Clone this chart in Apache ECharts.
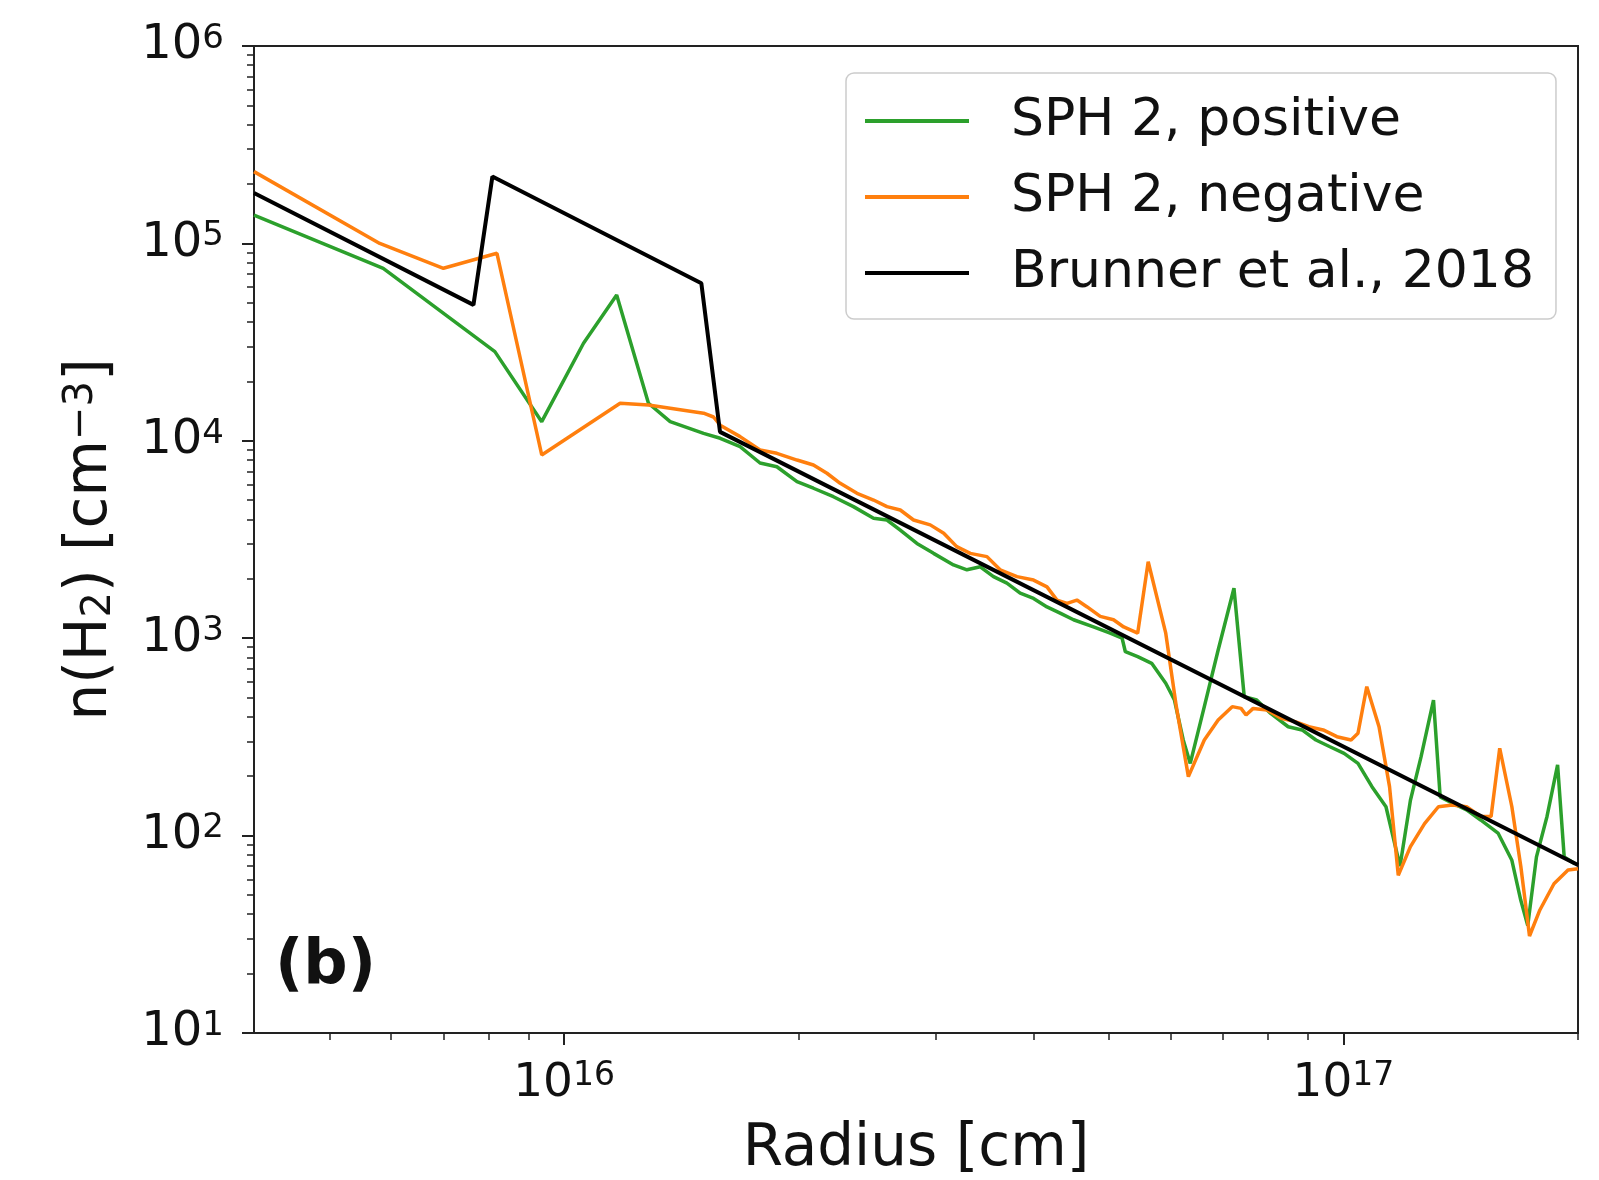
<!DOCTYPE html>
<html>
<head>
<meta charset="utf-8">
<script src="https://cdn.jsdelivr.net/npm/echarts@6/dist/echarts.min.js"></script>
<style>
html,body{margin:0;padding:0;background:#ffffff;}
#chart{width:1599px;height:1180px;}
</style>
</head>
<body>
<div id="chart"></div>
<script>
// ---------- data ----------
const seriesNames = ['SPH 2, positive', 'SPH 2, negative', 'Brunner et al., 2018'];

const greenX = [4.0e15, 5.86e15, 8.15e15, 9.36e15, 1.059e16, 1.168e16, 1.283e16, 1.368e16, 1.51e16, 1.586e16,
  1.682e16, 1.784e16, 1.875e16, 1.99e16, 2.089e16, 2.216e16, 2.351e16, 2.495e16, 2.596e16, 2.70e16,
  2.836e16, 2.979e16, 3.16e16, 3.288e16, 3.42e16, 3.556e16, 3.70e16, 3.848e16, 4.003e16, 4.165e16,
  4.33e16, 4.505e16, 4.778e16, 5.02e16, 5.20e16, 5.25e16, 5.445e16, 5.675e16, 5.916e16, 6.07e16,
  6.23e16, 6.36e16, 6.63e16, 6.907e16, 7.237e16, 7.46e16, 7.74e16, 8.066e16, 8.495e16, 8.85e16,
  9.22e16, 9.61e16, 1.002e17, 1.044e17, 1.088e17, 1.134e17, 1.182e17, 1.219e17, 1.258e17, 1.305e17,
  1.331e17, 1.38e17, 1.439e17, 1.5e17, 1.579e17, 1.645e17, 1.689e17, 1.724e17, 1.769e17, 1.825e17,
  1.883e17, 1.92e17, 1.982e17];
const greenY = [1.39e5, 7.48e4, 2.83e4, 1.25e4, 3.12e4, 5.48e4, 1.55e4, 1.25e4, 1.09e4, 1.03e4,
  9340, 7720, 7390, 6210, 5750, 5210, 4640, 4050, 3970, 3530,
  3020, 2690, 2350, 2220, 2300, 2050, 1900, 1690, 1590, 1440,
  1340, 1240, 1140, 1060, 1000, 854, 806, 746, 591, 486,
  305, 232, 450, 871, 1790, 505, 486, 416, 356, 343,
  305, 282, 261, 232, 177, 140, 70, 151, 251, 486,
  157, 146, 135, 120, 103, 75, 47, 35, 78, 125,
  228, 78, 72];

const orangeX = [4.0e15, 5.80e15, 7.0e15, 8.2e15, 9.36e15, 1.18e16, 1.283e16, 1.51e16, 1.555e16, 1.586e16,
  1.682e16, 1.784e16, 1.875e16, 1.99e16, 2.089e16, 2.174e16, 2.261e16, 2.376e16, 2.495e16, 2.596e16,
  2.70e16, 2.808e16, 2.95e16, 3.07e16, 3.19e16, 3.32e16, 3.488e16, 3.627e16, 3.812e16, 4.003e16,
  4.165e16, 4.29e16, 4.42e16, 4.55e16, 4.69e16, 4.875e16, 5.07e16, 5.225e16, 5.445e16, 5.617e16,
  5.916e16, 6.104e16, 6.325e16, 6.63e16, 6.907e16, 7.2e16, 7.39e16, 7.5e16, 7.66e16, 7.98e16,
  8.32e16, 8.67e16, 9.03e16, 9.42e16, 9.81e16, 1.023e17, 1.044e17, 1.0715e17, 1.111e17, 1.146e17,
  1.176e17, 1.219e17, 1.271e17, 1.324e17, 1.38e17, 1.439e17, 1.5e17, 1.547e17, 1.587e17, 1.645e17,
  1.689e17, 1.733e17, 1.787e17, 1.863e17, 1.942e17, 2.0e17];
const orangeY = [2.31e5, 1.0e5, 7.48e4, 8.91e4, 8480, 1.55e4, 1.52e4, 1.38e4, 1.32e4, 1.20e4,
  1.05e4, 8980, 8640, 7990, 7540, 6850, 6090, 5420, 5010, 4640,
  4460, 3970, 3750, 3400, 2910, 2690, 2590, 2220, 2050, 1970,
  1820, 1560, 1500, 1560, 1440, 1290, 1240, 1140, 1060, 2440,
  1060, 450, 199, 305, 385, 450, 441, 408, 441, 433,
  393, 378, 356, 343, 317, 305, 330, 568, 356, 177,
  63, 88, 115, 140, 143, 140, 125, 125, 277, 140,
  70, 31, 42, 57, 67, 68];

const brunnerX = [4.0e15, 7.65e15, 8.09e15, 1.50e16, 1.585e16, 2.0e17];
const brunnerY = [1.8e5, 4.88e4, 2.18e5, 6.28e4, 1.11e4, 71];

// axis ticks
const xMin = 4e15, xMax = 2e17, yMin = 10, yMax = 1e6;
const xMajorTicks = [1e16, 1e17];
const xMinorTicks = [4e15, 5e15, 6e15, 7e15, 8e15, 9e15,
  2e16, 3e16, 4e16, 5e16, 6e16, 7e16, 8e16, 9e16, 2e17];
const yMajorTicks = [1e1, 1e2, 1e3, 1e4, 1e5, 1e6];
const yMinorTicks = [2e1, 3e1, 4e1, 5e1, 6e1, 7e1, 8e1, 9e1,
  2e2, 3e2, 4e2, 5e2, 6e2, 7e2, 8e2, 9e2,
  2e3, 3e3, 4e3, 5e3, 6e3, 7e3, 8e3, 9e3,
  2e4, 3e4, 4e4, 5e4, 6e4, 7e4, 8e4, 9e4,
  2e5, 3e5, 4e5, 5e5, 6e5, 7e5, 8e5, 9e5];

const colors = ['#2ca02c', '#ff7f0e', '#000000'];

// ---------- chart ----------
const FONT = 'DejaVu Sans';
const TXT = '#111111';
const SPINE = '#222222';

function zip(xs, ys) { return xs.map((x, i) => [x, ys[i]]); }
function expLabel(v) { return '10{s|' + Math.round(Math.log10(v)) + '}'; }

const chart = echarts.init(document.getElementById('chart'), null, { renderer: 'canvas' });

const majorTickStyle = { color: SPINE, width: 2 };

const option = {
  animation: false,
  backgroundColor: '#ffffff',
  title: {
    text: '(b)', left: 275, top: 936, padding: 0,
    textStyle: { fontFamily: FONT, fontSize: 62, fontWeight: 'bold', color: TXT }
  },
  legend: {
    orient: 'vertical', left: 846, top: 73,
    padding: [22, 22, 20, 19],
    icon: 'rect',
    itemWidth: 104, itemHeight: 4, itemGap: 24,
    backgroundColor: 'rgba(255,255,255,0.8)',
    borderColor: '#cccccc', borderWidth: 1.5, borderRadius: 8,
    textStyle: { fontFamily: FONT, fontSize: 52, color: TXT, padding: [0, 0, 0, 37] },
    data: seriesNames
  },
  grid: {
    left: 254, right: 21, top: 46, bottom: 147,
    show: true, borderColor: SPINE, borderWidth: 2, backgroundColor: 'transparent',
    containLabel: false, outerBoundsMode: 'none'
  },
  xAxis: [
    {
      type: 'log', logBase: 10, min: xMin, max: xMax, position: 'bottom',
      axisLine: { show: true, lineStyle: { color: SPINE, width: 2 } },
      axisTick: { show: true, inside: false, length: 12, lineStyle: majorTickStyle, customValues: xMajorTicks },
      axisLabel: {
        customValues: xMajorTicks, margin: 27, formatter: expLabel,
        fontFamily: FONT, fontSize: 47, color: TXT,
        rich: { s: { fontFamily: FONT, fontSize: 33, color: TXT, verticalAlign: 'top' } }
      },
      splitLine: { show: false }, minorTick: { show: false }, minorSplitLine: { show: false },
      name: 'Radius [cm]', nameLocation: 'middle', nameGap: 88,
      nameTextStyle: { fontFamily: FONT, fontSize: 58, color: TXT }
    },
    {
      type: 'log', logBase: 10, min: xMin, max: xMax, position: 'bottom',
      axisLine: { show: false },
      axisTick: { show: true, inside: false, length: 7, lineStyle: { color: SPINE, width: 1.5 }, customValues: xMinorTicks },
      axisLabel: { show: false }, splitLine: { show: false }
    }
  ],
  yAxis: [
    {
      type: 'log', logBase: 10, min: yMin, max: yMax, position: 'left',
      axisLine: { show: true, lineStyle: { color: SPINE, width: 2 } },
      axisTick: { show: true, inside: false, length: 12, lineStyle: majorTickStyle, customValues: yMajorTicks },
      axisLabel: {
        customValues: yMajorTicks, margin: 30, formatter: expLabel,
        fontFamily: FONT, fontSize: 48, color: TXT,
        rich: { s: { fontFamily: FONT, fontSize: 34, color: TXT, verticalAlign: 'top' } }
      },
      splitLine: { show: false }, minorTick: { show: false }, minorSplitLine: { show: false },
      name: 'n(H{sub|2}) [cm{sup|\u22123}]', nameLocation: 'middle', nameGap: 134,
      nameTextStyle: {
        fontFamily: FONT, fontSize: 58, color: TXT,
        rich: {
          sub: { fontFamily: FONT, fontSize: 40, color: TXT, verticalAlign: 'bottom' },
          sup: { fontFamily: FONT, fontSize: 40, color: TXT, verticalAlign: 'top' }
        }
      }
    },
    {
      type: 'log', logBase: 10, min: yMin, max: yMax, position: 'left',
      axisLine: { show: false },
      axisTick: { show: true, inside: false, length: 7, lineStyle: { color: SPINE, width: 1.5 }, customValues: yMinorTicks },
      axisLabel: { show: false }, splitLine: { show: false }
    }
  ],
  series: [
    {
      name: seriesNames[0], type: 'line', xAxisIndex: 0, yAxisIndex: 0,
      data: zip(greenX, greenY), symbol: 'none', showSymbol: false,
      lineStyle: { color: colors[0], width: 3.5 }, itemStyle: { color: colors[0] }, z: 2
    },
    {
      name: seriesNames[1], type: 'line', xAxisIndex: 0, yAxisIndex: 0,
      data: zip(orangeX, orangeY), symbol: 'none', showSymbol: false,
      lineStyle: { color: colors[1], width: 3.5 }, itemStyle: { color: colors[1] }, z: 3
    },
    {
      name: seriesNames[2], type: 'line', xAxisIndex: 0, yAxisIndex: 0,
      data: zip(brunnerX, brunnerY), symbol: 'none', showSymbol: false,
      lineStyle: { color: colors[2], width: 4 }, itemStyle: { color: colors[2] }, z: 4
    }
  ]
};

chart.setOption(option);
</script>
</body>
</html>
